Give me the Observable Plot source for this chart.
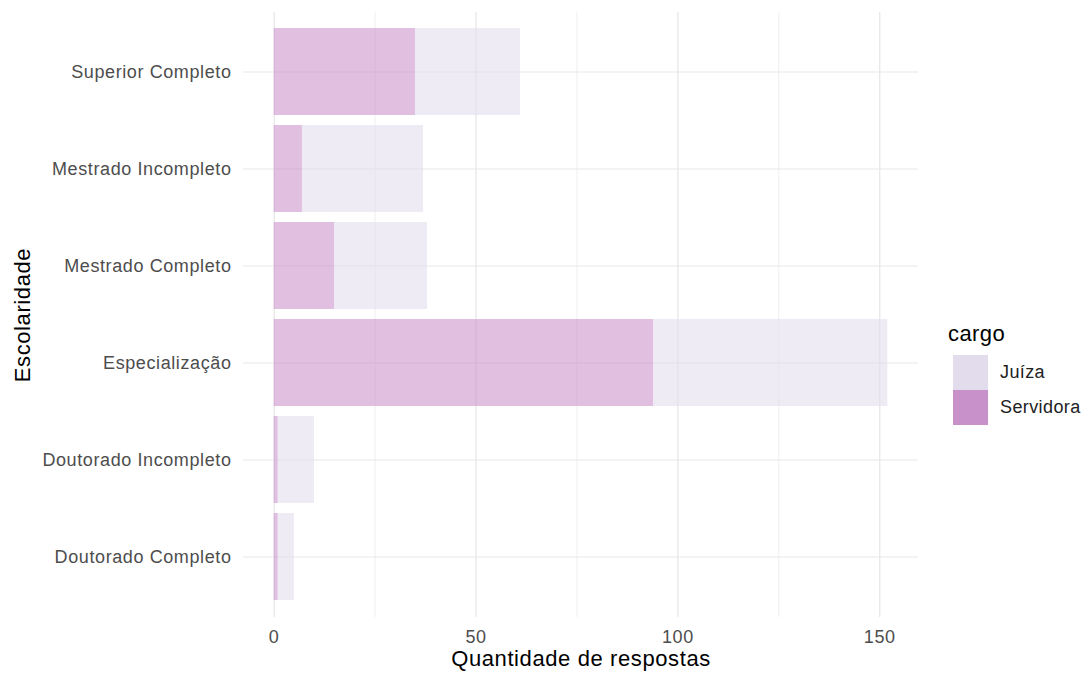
<!DOCTYPE html>
<html>
<head>
<meta charset="utf-8">
<script src="https://cdn.jsdelivr.net/npm/d3@7"></script>
<script src="https://cdn.jsdelivr.net/npm/@observablehq/plot@0.6"></script>
<style>
  html, body { margin: 0; padding: 0; background: white; }
  #wrap { position: relative; width: 1085px; height: 677px; font-family: "Liberation Sans", Arial, sans-serif; }
  #wrap svg text { letter-spacing: 0.6px; }
  #legend { position: absolute; left: 948px; top: 319px; letter-spacing: 0.4px; }
  #legend .title { font-size: 22px; color: #000; height: 36px; line-height: 30px; }
  #legend .row { display: flex; align-items: center; height: 35px; }
  #legend .sw { width: 35px; height: 35px; margin-left: 5px; margin-right: 12px; }
  #legend .lab { font-size: 18px; color: #222; }
</style>
</head>
<body>
<div id="wrap"></div>
<script>
const categories = ["Superior Completo", "Mestrado Incompleto", "Mestrado Completo", "Especialização", "Doutorado Incompleto", "Doutorado Completo"];
const servidora = [35, 7, 15, 94, 1, 1];
const juiza = [26, 30, 23, 58, 9, 4];
const cargos = ["Juíza", "Servidora"];
const cargoColors = ["#e2dcec", "#c991c9"];
const xTicks = [0, 50, 100, 150];
const xMinorTicks = [25, 75, 125];
const xTitle = "Quantidade de respostas";
const yTitle = "Escolaridade";
const legendTitle = "cargo";

const data = categories.flatMap((c, i) => [
  {escolaridade: c, cargo: "Servidora", n: servidora[i]},
  {escolaridade: c, cargo: "Juíza", n: juiza[i]}
]);
const maxTotal = d3.max(categories, (c, i) => servidora[i] + juiza[i]);
const pad = maxTotal * 0.05;

const chart = Plot.plot({
  width: 1085,
  height: 677,
  marginLeft: 243,
  marginRight: 167,
  marginTop: 12,
  marginBottom: 60,
  style: {fontFamily: "'Liberation Sans', Arial, sans-serif", background: "white", overflow: "visible"},
  x: {domain: [-pad, maxTotal + pad]},
  y: {domain: categories, paddingInner: 0.1, paddingOuter: 0.15},
  color: {domain: cargos, range: cargoColors},
  marks: [
    Plot.ruleX(xMinorTicks, {stroke: "#efefef", strokeWidth: 1}),
    Plot.ruleX(xTicks, {stroke: "#e6e6e6", strokeWidth: 1.2}),
    Plot.gridY({stroke: "#e8e8e8", strokeOpacity: 1, strokeWidth: 1.2}),
    Plot.barX(data, Plot.stackX({y: "escolaridade", x: "n", fill: "cargo", order: ["Servidora", "Juíza"], fillOpacity: 0.58})),
    Plot.axisX(xTicks, {tickSize: 0, tickPadding: 13, fontSize: 18, color: "#4d4d4d", label: null}),
    Plot.axisY({tickSize: 0, tickPadding: 12, fontSize: 18, color: "#4d4d4d", label: null}),
    Plot.text([xTitle], {frameAnchor: "bottom", dy: 48, fontSize: 22, fill: "#000"}),
    Plot.text([yTitle], {frameAnchor: "left", textAnchor: "middle", dx: -221, rotate: -90, fontSize: 22, fill: "#000"})
  ]
});

const wrap = document.getElementById("wrap");
wrap.appendChild(chart);

const legend = document.createElement("div");
legend.id = "legend";
const t = document.createElement("div");
t.className = "title";
t.textContent = legendTitle;
legend.appendChild(t);
cargos.forEach((c, i) => {
  const row = document.createElement("div");
  row.className = "row";
  const sw = document.createElement("div");
  sw.className = "sw";
  sw.style.background = cargoColors[i];
  const lab = document.createElement("div");
  lab.className = "lab";
  lab.textContent = c;
  row.appendChild(sw);
  row.appendChild(lab);
  legend.appendChild(row);
});
wrap.appendChild(legend);
</script>
</body>
</html>
